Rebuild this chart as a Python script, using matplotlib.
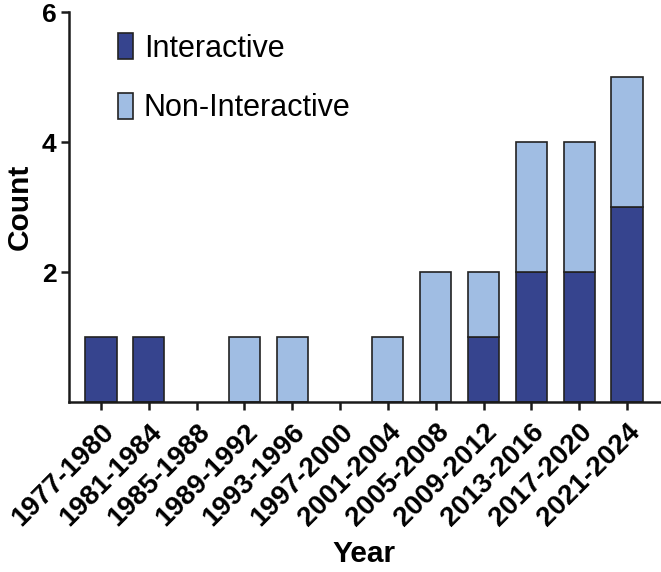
import numpy as np
import matplotlib
matplotlib.use("Agg")
import matplotlib.pyplot as plt

plt.rcParams['font.family'] = ['Liberation Sans', 'DejaVu Sans']

# data
periods = ["1977-1980", "1981-1984", "1985-1988", "1989-1992", "1993-1996",
           "1997-2000", "2001-2004", "2005-2008", "2009-2012", "2013-2016",
           "2017-2020", "2021-2024"]
interactive = [1, 1, 0, 0, 0, 0, 0, 0, 1, 2, 2, 3]
non_interactive = [0, 0, 0, 1, 1, 0, 1, 2, 1, 2, 2, 2]

dark = "#36448e"
light = "#a0bde3"
edge = "#222222"

fig = plt.figure(figsize=(6.61, 5.72), dpi=100)
ax = fig.add_axes([69 / 661, 170 / 572, 591 / 661, 390 / 572])

x = np.arange(len(periods))
w = 0.65
# no outline on empty segments, so nothing shows along the axis
edges_i = [edge if v > 0 else "none" for v in interactive]
edges_n = [edge if v > 0 else "none" for v in non_interactive]
ax.bar(x, interactive, w, color=dark, edgecolor=edges_i, linewidth=1.2,
       label="Interactive", zorder=2)
ax.bar(x, non_interactive, w, bottom=interactive, color=light,
       edgecolor=edges_n, linewidth=1.2, label="Non-Interactive", zorder=2)

ax.set_xlim(-0.67, 11.69)
ax.set_ylim(0, 6)
ax.set_yticks([2, 4, 6])
ax.set_xticks(x)
ax.set_xticklabels(periods, rotation=45, ha="right", rotation_mode="anchor",
                   fontsize=20, fontweight="bold")
for t in ax.get_yticklabels():
    t.set_fontsize(19)
    t.set_fontweight("bold")

for s in ["top", "right"]:
    ax.spines[s].set_visible(False)
for s in ["left", "bottom"]:
    ax.spines[s].set_linewidth(1.8)
    ax.spines[s].set_color("#1a1a1a")
    ax.spines[s].set_zorder(3)
ax.tick_params(axis="both", length=6, width=1.8, color="#1a1a1a", pad=3)
ax.tick_params(axis="x", pad=6)

ax.set_xlabel("Year", fontsize=21.5, fontweight="bold", labelpad=6)
ax.set_ylabel("Count", fontsize=21.5, fontweight="bold", labelpad=6)

leg = ax.legend(loc="upper left", bbox_to_anchor=(118 / 661, 1 - 33 / 572),
                bbox_transform=fig.transFigure, frameon=False, fontsize=22,
                handlelength=0.5, handleheight=0.95, handletextpad=0.35,
                labelspacing=0.95, borderpad=0, borderaxespad=0)
for h in leg.legend_handles:
    h.set_edgecolor(edge)

fig.savefig("out.png", dpi=100)
